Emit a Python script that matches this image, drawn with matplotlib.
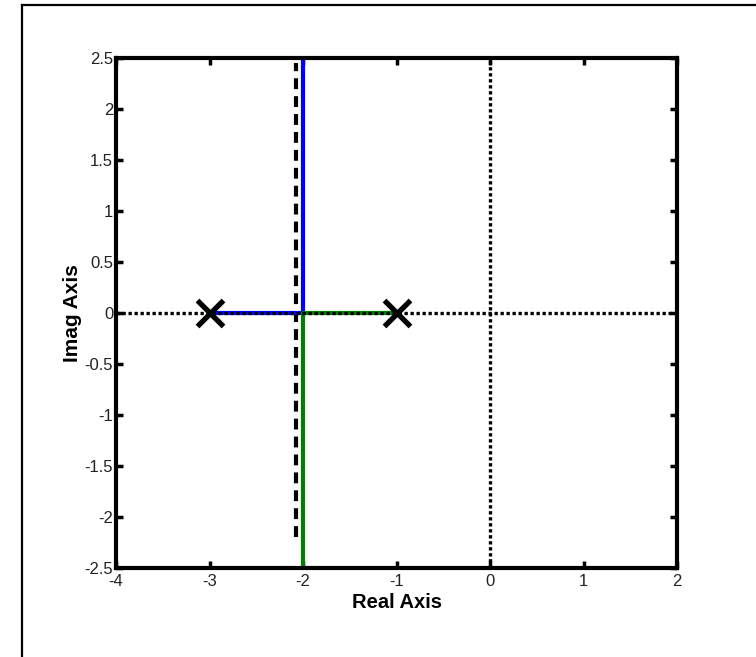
import numpy as np
import matplotlib
matplotlib.use("Agg")
import matplotlib.pyplot as plt
from matplotlib.lines import Line2D

# root locus data
poles_re = [-3, -1]
poles_im = [0, 0]
blue_re = [-3, -2, -2]
blue_im = [0, 0, 2.5]
green_re = [-1, -2, -2]
green_im = [0, 0, -2.5]
asym_re = -2.07
xticks = [-4, -3, -2, -1, 0, 1, 2]
yticks = [-2.5, -2, -1.5, -1, -0.5, 0, 0.5, 1, 1.5, 2, 2.5]

plt.rcParams['font.family'] = ['Liberation Sans', 'DejaVu Sans']

fig = plt.figure(figsize=(7.56, 6.57), dpi=100)
W, H = 756, 657
ax = fig.add_axes([116 / W, 1 - 568 / H, (677 - 116) / W, (568 - 58) / H])

# figure frame, only left and top edges visible
fx, fy = 22 / W, 1 - 5 / H
fig.add_artist(Line2D([fx, fx], [0, fy], transform=fig.transFigure, color='black', lw=1.6))
fig.add_artist(Line2D([fx, 1], [fy, fy], transform=fig.transFigure, color='black', lw=1.6))

ax.plot(blue_re, blue_im, color='#0000ff', lw=3.0, solid_capstyle='butt', zorder=2)
ax.plot(green_re, green_im, color='#007f00', lw=3.0, solid_capstyle='butt', zorder=2)
ax.axhline(0, color='black', lw=2.4, ls=(0, (1, 0.8)), zorder=3)
ax.axvline(0, color='black', lw=2.4, ls=(0, (1, 0.8)), zorder=3)
ax.plot([asym_re, asym_re], [-2.2, 2.45], color='black', lw=3.0, ls=(0, (2.6, 1.7)), zorder=1)
ax.plot(poles_re, poles_im, ls='none', marker='x', ms=19, mew=3.8, color='black', zorder=4)

ax.set_xlim(-4, 2)
ax.set_ylim(-2.5, 2.5)
ax.set_xticks(xticks)
ax.set_yticks(yticks)
ax.set_xticklabels([f"{v:g}" for v in xticks])
ax.set_yticklabels([f"{v:g}" for v in yticks])
ax.tick_params(direction='in', length=5, width=2.5, labelsize=12, pad=2,
               top=True, right=True, labelcolor='#222222')
ax.tick_params(axis='x', pad=4)
for s in ax.spines.values():
    s.set_linewidth(3)
ax.set_xlabel('Real Axis', fontsize=14.5, fontweight='bold', labelpad=3)
ax.set_ylabel('Imag Axis', fontsize=15, fontweight='bold', labelpad=2)

fig.savefig('out.png', dpi=100)
